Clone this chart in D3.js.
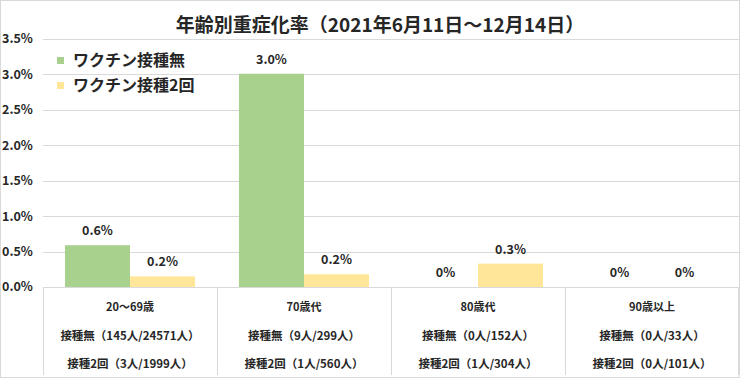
<!DOCTYPE html>
<html>
<head>
<meta charset="utf-8">
<script src="https://cdn.jsdelivr.net/npm/d3@7"></script>
<style>
  body { margin: 0; background: #fff; }
  svg text { font-family: "Noto Sans CJK JP", "Noto Sans", sans-serif; font-weight: bold; fill: #262626; }
</style>
</head>
<body>
<div id="chart"></div>
<script>
// data
const categories = ["20～69歳", "70歳代", "80歳代", "90歳以上"];
const series = ["ワクチン接種無", "ワクチン接種2回"];
const unvaccinated = [0.59, 3.01, 0, 0];     // %
const twoDoses = [0.15, 0.18, 0.33, 0];       // %
const unvaccinatedLabels = ["0.6%", "3.0%", "0%", "0%"];
const twoDosesLabels = ["0.2%", "0.2%", "0.3%", "0%"];
const unvaccinatedCounts = ["接種無（145人/24571人）", "接種無（9人/299人）", "接種無（0人/152人）", "接種無（0人/33人）"];
const twoDosesCounts = ["接種2回（3人/1999人）", "接種2回（1人/560人）", "接種2回（1人/304人）", "接種2回（0人/101人）"];
const yTicks = [0, 0.5, 1.0, 1.5, 2.0, 2.5, 3.0, 3.5];

const colors = ["#a9d18e", "#ffe699"];
const width = 740, height = 378;
const margin = {top: 39, right: 1, bottom: 91, left: 43};

const svg = d3.select("#chart").append("svg")
    .attr("width", width)
    .attr("height", height);

// outer frame
svg.append("rect")
    .attr("x", 0.5).attr("y", 0.5)
    .attr("width", width - 1).attr("height", height - 1)
    .attr("fill", "#fff")
    .attr("stroke", "#d9d9d9");

let x = d3.scaleBand()
    .domain(categories)
    .range([margin.left, width - margin.right]);

let xInner = d3.scaleBand()
    .domain(series)
    .range([0, x.bandwidth()])
    .paddingOuter(0.338);

let y = d3.scaleLinear()
    .domain([0, 3.5])
    .range([height - margin.bottom, margin.top]);

// gridlines
svg.append("g")
    .selectAll("line")
    .data(yTicks)
    .join("line")
    .attr("x1", margin.left)
    .attr("x2", width - margin.right)
    .attr("y1", d => Math.round(y(d)) + 0.5)
    .attr("y2", d => Math.round(y(d)) + 0.5)
    .attr("stroke", "#d9d9d9");

// y tick labels
svg.append("g")
    .selectAll("text")
    .data(yTicks)
    .join("text")
    .attr("x", 2)
    .attr("y", d => y(d))
    .attr("dy", "0.35em")
    .attr("font-size", 12.5)
    .text(d => d.toFixed(1) + "%");

// bars
let rows = categories.map((c, i) => ({
    cat: c,
    vals: [
        {s: series[0], v: unvaccinated[i], label: unvaccinatedLabels[i]},
        {s: series[1], v: twoDoses[i], label: twoDosesLabels[i]}
    ]
}));

let groups = svg.append("g")
    .selectAll("g")
    .data(rows)
    .join("g")
    .attr("transform", d => "translate(" + x(d.cat) + ",0)");

groups.selectAll("rect")
    .data(d => d.vals)
    .join("rect")
    .attr("x", d => xInner(d.s))
    .attr("width", xInner.bandwidth())
    .attr("y", d => y(d.v))
    .attr("height", d => y(0) - y(d.v))
    .attr("fill", (d, i) => colors[i]);

groups.selectAll("text")
    .data(d => d.vals)
    .join("text")
    .attr("x", d => xInner(d.s) + xInner.bandwidth() / 2)
    .attr("y", d => y(d.v) - 10)
    .attr("text-anchor", "middle")
    .attr("font-size", 12.5)
    .text(d => d.label);

// category table below the axis
let table = svg.append("g");
table.selectAll("line")
    .data(categories.concat(["end"]))
    .join("line")
    .attr("x1", d => d === "end" ? width - margin.right - 0.5 : Math.round(x(d)) + 0.5)
    .attr("x2", d => d === "end" ? width - margin.right - 0.5 : Math.round(x(d)) + 0.5)
    .attr("y1", y(0))
    .attr("y2", height - 3)
    .attr("stroke", "#d9d9d9");

table.selectAll("text.cat")
    .data(categories)
    .join("text")
    .attr("class", "cat")
    .attr("x", d => x(d) + x.bandwidth() / 2)
    .attr("y", 307)
    .attr("dy", "0.35em")
    .attr("text-anchor", "middle")
    .attr("font-size", 11)
    .text(d => d);

table.selectAll("text.c1")
    .data(unvaccinatedCounts)
    .join("text")
    .attr("class", "c1")
    .attr("x", (d, i) => x(categories[i]) + x.bandwidth() / 2)
    .attr("y", 336)
    .attr("dy", "0.35em")
    .attr("text-anchor", "middle")
    .attr("font-size", 11.5)
    .text(d => d);

table.selectAll("text.c2")
    .data(twoDosesCounts)
    .join("text")
    .attr("class", "c2")
    .attr("x", (d, i) => x(categories[i]) + x.bandwidth() / 2)
    .attr("y", 364)
    .attr("dy", "0.35em")
    .attr("text-anchor", "middle")
    .attr("font-size", 11.5)
    .text(d => d);

// title
svg.append("text")
    .attr("x", 380)
    .attr("y", 25)
    .attr("dy", "0.35em")
    .attr("text-anchor", "middle")
    .attr("font-size", 19)
    .text("年齢別重症化率（2021年6月11日～12月14日）");

// legend
let legend = svg.append("g")
    .selectAll("g")
    .data(series)
    .join("g")
    .attr("transform", (d, i) => "translate(57," + (60 + i * 25) + ")");

legend.append("rect")
    .attr("x", 0).attr("y", -3)
    .attr("width", 7).attr("height", 7)
    .attr("fill", (d, i) => colors[i]);

legend.append("text")
    .attr("x", 16)
    .attr("y", 0)
    .attr("dy", "0.35em")
    .attr("font-size", 16)
    .text(d => d);
</script>
</body>
</html>
